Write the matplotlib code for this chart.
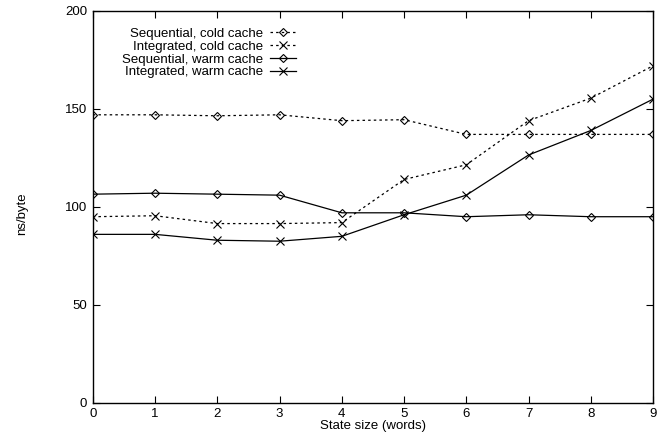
import matplotlib
matplotlib.use("Agg")
import matplotlib.pyplot as plt

plt.rcParams['font.family'] = ['Liberation Sans', 'DejaVu Sans']
plt.rcParams['font.size'] = 9.5

# --- Data ---
state_size = [0, 1, 2, 3, 4, 5, 6, 7, 8, 9]
seq_cold = [147, 147, 146.5, 147, 144, 144.5, 137, 137, 137, 137]
int_cold = [95, 95.5, 91.5, 91.5, 92, 114, 121.5, 144, 155.5, 172]
seq_warm = [106.5, 107, 106.5, 106, 97, 97, 95, 96, 95, 95]
int_warm = [86, 86, 83, 82.5, 85, 96, 106, 126.5, 139, 155]

series = [
    ("Sequential, cold cache", seq_cold, "D", (0, (2, 2.5))),
    ("Integrated, cold cache", int_cold, "x", (0, (2, 2.5))),
    ("Sequential, warm cache", seq_warm, "D", "-"),
    ("Integrated, warm cache", int_warm, "x", "-"),
]

fig = plt.figure(figsize=(6.63, 4.37), dpi=100)
ax = fig.add_axes([0.140, 0.078, 0.845, 0.897])

for label, vals, mk, ls in series:
    ax.plot(state_size, vals, color="black", linestyle=ls, linewidth=0.9,
            marker=mk, markersize=4 if mk == "D" else 5.5,
            markerfacecolor="none", markeredgecolor="black",
            markeredgewidth=0.8, label=label)

ax.set_xlim(0, 9)
ax.set_ylim(0, 200)
ax.set_xticks(state_size)
ax.set_yticks([0, 50, 100, 150, 200])
ax.tick_params(direction="in", top=True, right=True, length=5, width=0.8, pad=4)
for sp in ax.spines.values():
    sp.set_linewidth(1.0)

ax.set_xlabel("State size (words)", labelpad=0)
fig.text(0.033, 0.51, "ns/byte", rotation=90, ha="center", va="center")

ax.legend(loc="upper right", bbox_to_anchor=(0.457, 0.952),
          bbox_transform=fig.transFigure, frameon=False, markerfirst=False,
          borderpad=0, labelspacing=0.05, handlelength=2.0, handletextpad=0.5,
          fontsize=9.5)

fig.savefig("out.png", dpi=100)
